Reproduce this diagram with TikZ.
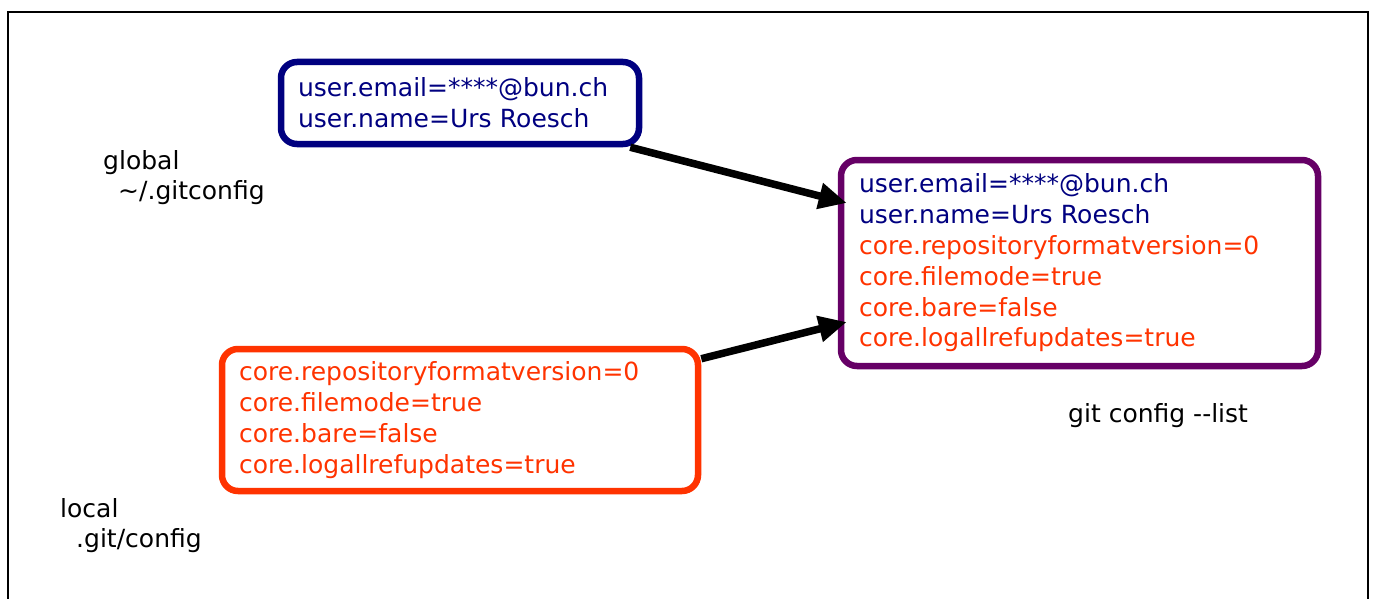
\documentclass[tikz,border=0pt]{standalone}
\usepackage{fontspec}
\setmainfont{DejaVu Sans}
\usetikzlibrary{arrows.meta}
\definecolor{gnavy}{HTML}{000080}
\definecolor{gpurple}{HTML}{660066}
\definecolor{gorange}{HTML}{FF3300}
\tikzset{
  cfgbox/.style={draw, line width=6.5pt, rounded corners=16pt, align=left,
    inner ysep=0pt, font={\fontsize{25}{30.8}\selectfont}},
  lbl/.style={anchor=base west, align=left, inner sep=0pt,
    font={\fontsize{25}{30.5}\selectfont}},
  conn/.style={line width=7.5pt, -{Triangle[length=28pt,width=25pt]}},
}
\begin{document}
\begin{tikzpicture}[x=1pt,y=-1pt]
\useasboundingbox (0,0) rectangle (1375,599);
\draw[line width=1.5pt] (8,605) -- (8,12) -- (1368,12) -- (1368,605);

\node[cfgbox, draw=gnavy, text=gnavy, minimum width=358pt, minimum height=82pt,
  inner xsep=17pt, text width=324pt] (glob) at (460,103)
  {user.email=****@bun.ch\\user.name=Urs Roesch};

\node[cfgbox, draw=gorange, text=gorange, minimum width=476pt, minimum height=142pt,
  inner xsep=17pt, text width=442pt] (loc) at (460,420)
  {core.repositoryformatversion=0\\core.filemode=true\\core.bare=false\\core.logallrefupdates=true};

\node[cfgbox, draw=gpurple, minimum width=477pt, minimum height=206pt,
  inner xsep=18pt, text width=441pt] (list) at (1079.5,263)
  {\textcolor{gnavy}{user.email=****@bun.ch}\\
   \textcolor{gnavy}{user.name=Urs Roesch}\\
   \textcolor{gorange}{core.repositoryformatversion=0}\\
   \textcolor{gorange}{core.filemode=true}\\
   \textcolor{gorange}{core.bare=false}\\
   \textcolor{gorange}{core.logallrefupdates=true}};

\node[lbl] (globl) at (103,199.5) {global\\\hspace{15pt}\textasciitilde/.gitconfig};
\node[lbl] (locl) at (60,547.5) {local\\\hspace{16pt}.git/config};
\node[lbl] (listl) at (1068,422) {git config -\kern0pt-list};

\draw[conn] ([xshift=-12pt]glob.south east) -- ([xshift=9pt,yshift=60pt]list.west);
\draw[conn] ([yshift=-13pt]loc.north east) -- ([xshift=9pt,yshift=-59pt]list.west);
\end{tikzpicture}
\end{document}
